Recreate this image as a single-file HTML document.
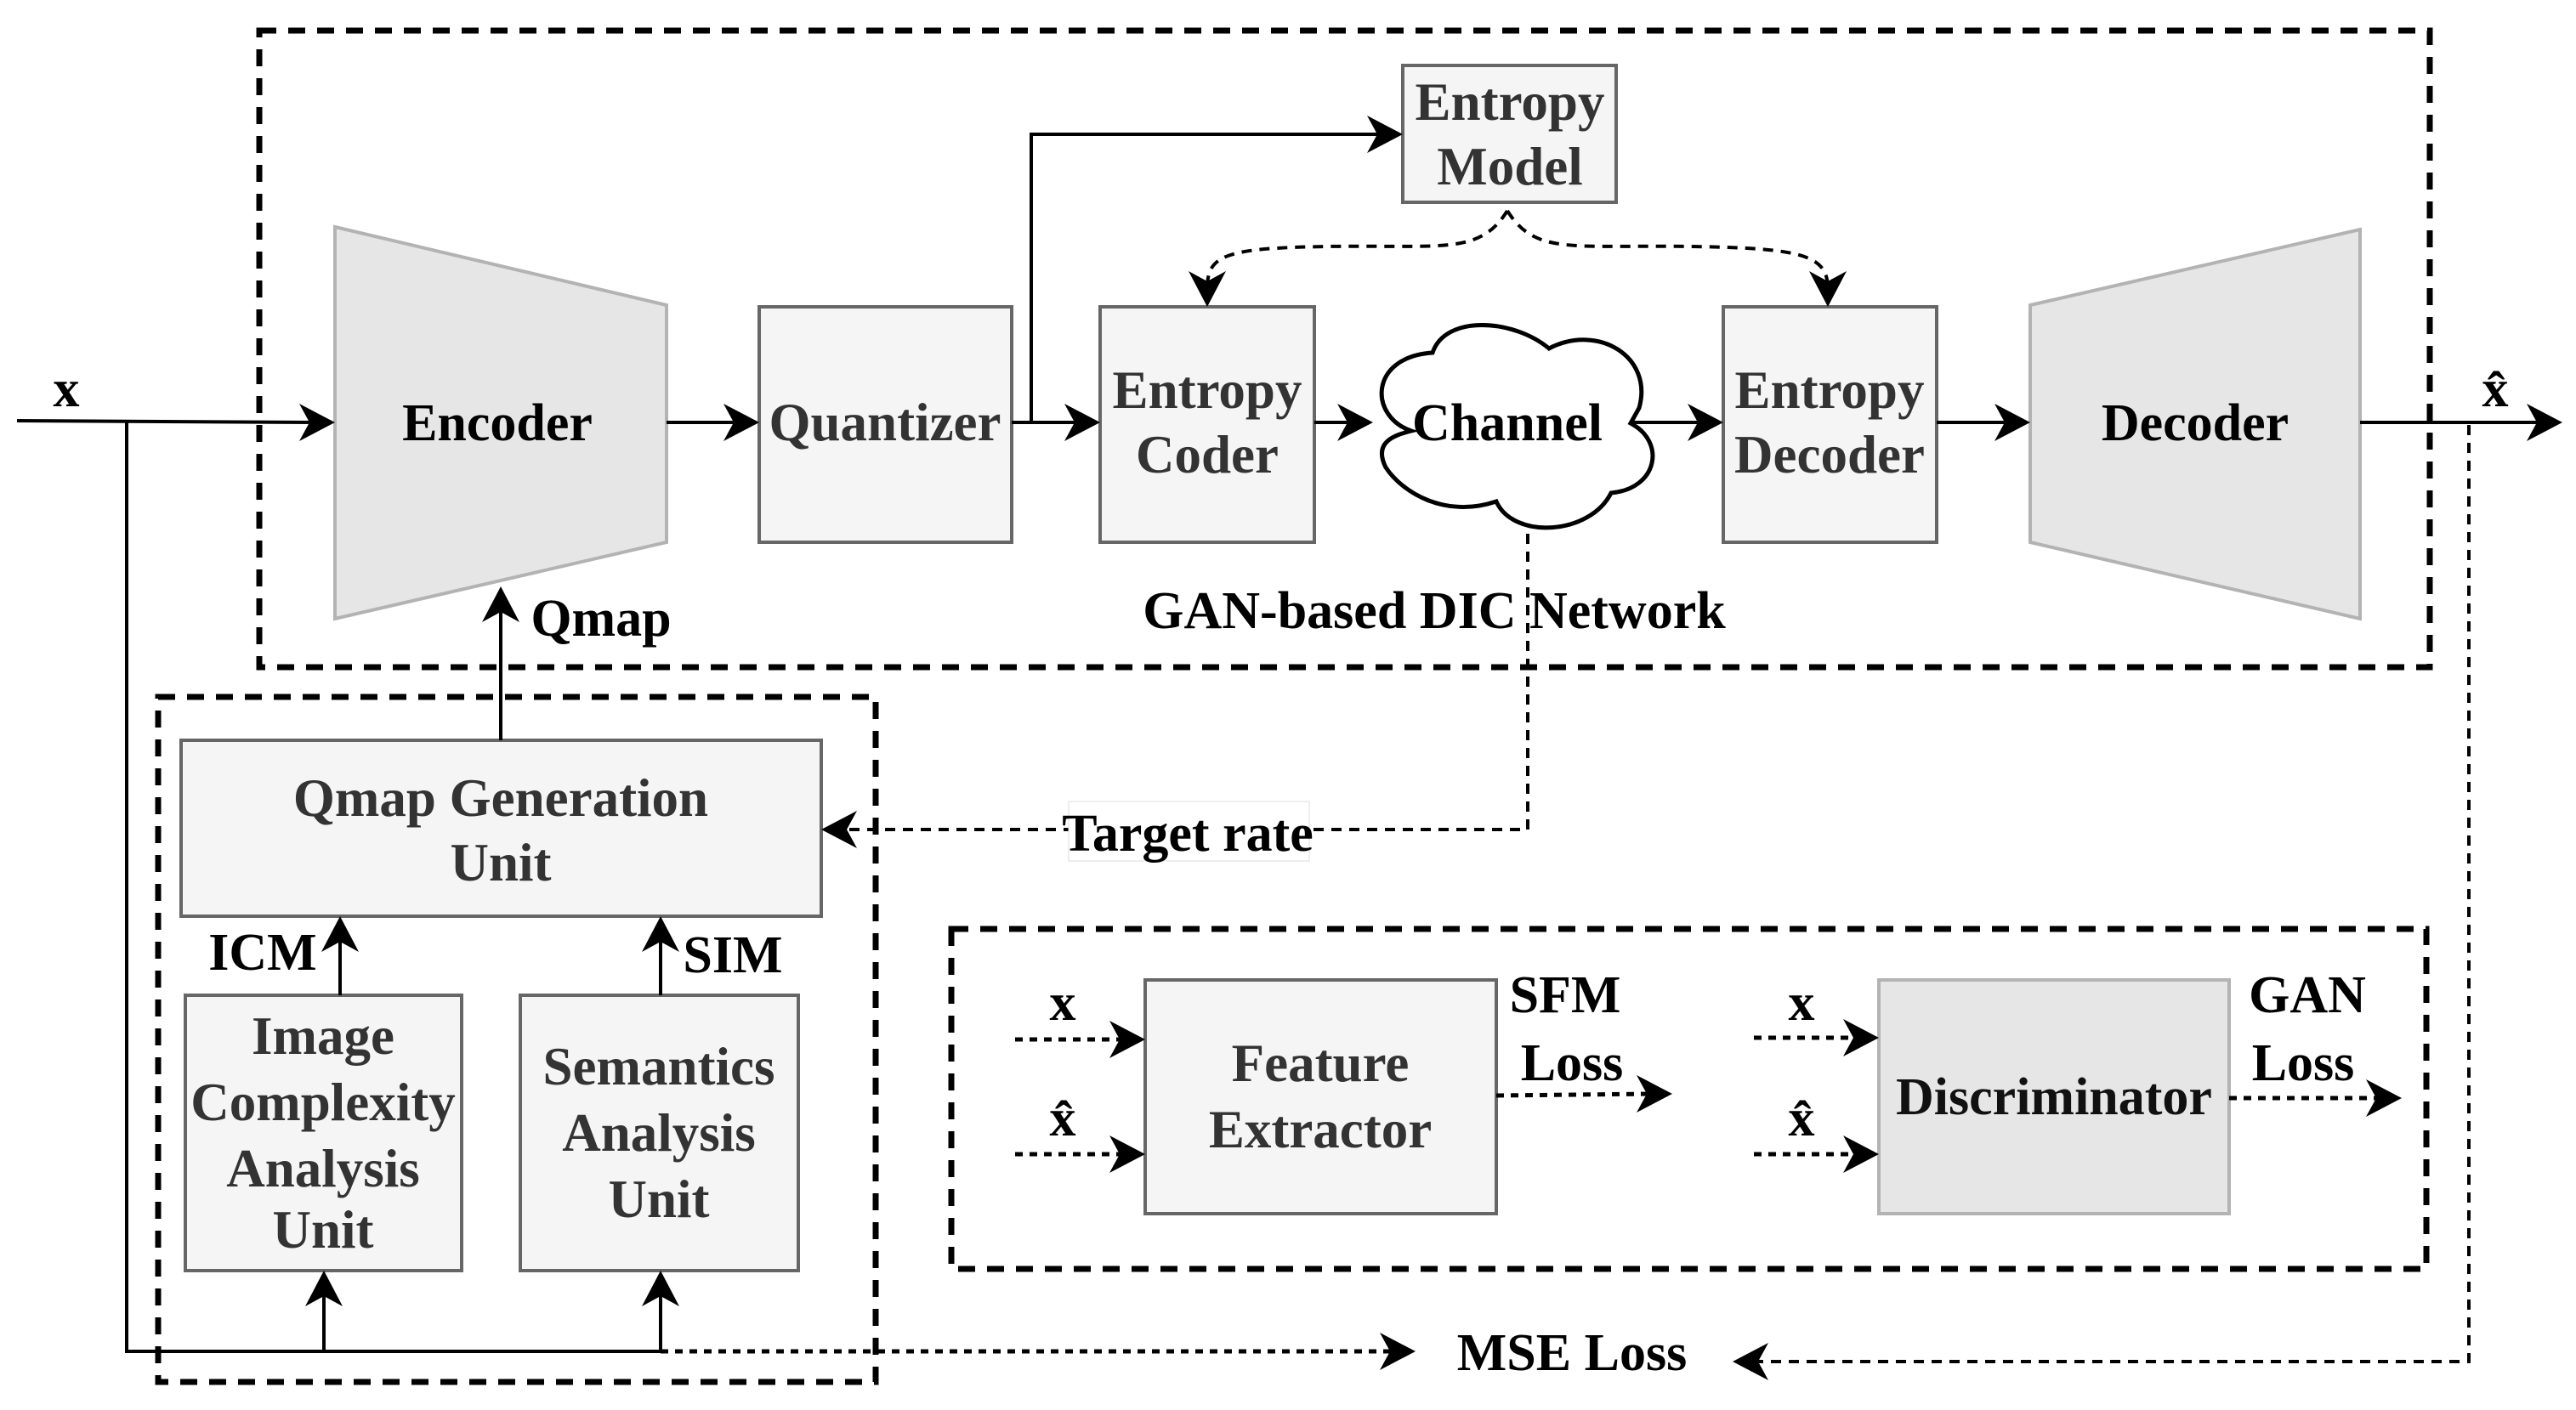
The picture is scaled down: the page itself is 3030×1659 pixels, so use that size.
<!DOCTYPE html>
<html><head><meta charset="utf-8"><style>
html,body{margin:0;padding:0;background:#fff;}
svg{display:block;}
text{font-family:"Liberation Serif","DejaVu Serif",serif;font-weight:bold;}
.bt{fill:#333;font-size:63px;text-anchor:middle;}
.lb{fill:#000;font-size:62px;text-anchor:middle;}
</style></head><body>
<svg width="3030" height="1659" viewBox="0 0 3030 1659" xmlns="http://www.w3.org/2000/svg">
<g fill="none" stroke="#000" stroke-width="7" stroke-dasharray="20 14">
<rect x="305" y="36" width="2553" height="749"/>
<rect x="186" y="820" width="844" height="806"/>
<rect x="1119" y="1093" width="1735" height="400"/>
</g>
<polygon points="394,267 784,359 784,638 394,728" fill="#e6e6e6" stroke="#b3b3b3" stroke-width="4"/>
<polygon points="2388,359 2776,270 2776,728 2388,638" fill="#e6e6e6" stroke="#b3b3b3" stroke-width="4"/>
<g fill="#f5f5f5" stroke="#666" stroke-width="4">
<rect x="893" y="361" width="297" height="277"/>
<rect x="1294" y="361" width="252" height="277"/>
<rect x="1650" y="77" width="251" height="161"/>
<rect x="2027" y="361" width="251" height="277"/>
<rect x="213" y="871" width="753" height="207"/>
<rect x="218" y="1171" width="325" height="324"/>
<rect x="612" y="1171" width="327" height="324"/>
<rect x="1347" y="1153" width="413" height="275"/>
</g>
<rect x="2210" y="1153" width="412" height="275" fill="#e6e6e6" stroke="#b3b3b3" stroke-width="4"/>
<path d="M1660,507 C1610,490 1610,420 1685,415 C1700,370 1780,375 1822,410 C1880,380 1945,420 1928,480 L1918,498 C1960,520 1950,575 1895,580 C1870,630 1780,635 1760,590 C1700,610 1650,580 1630,550 C1615,520 1640,512 1660,507 Z" fill="#fff" stroke="#000" stroke-width="5"/>
<g fill="none" stroke="#000" stroke-width="4">
<path d="M20,495 L370,497"/>
<path d="M784,497 L868,497"/>
<path d="M1190,497 L1270,497"/>
<path d="M1213,497 L1213,158 L1626,158"/>
<path d="M1546,497 L1592,497"/>
<path d="M1920,497 L2004,497"/>
<path d="M2278,497 L2364,497"/>
<path d="M2776,497 L2990,497"/>
<path d="M589,871 L589,714"/>
<path d="M400,1171 L400,1102"/>
<path d="M777,1171 L777,1102"/>
<path d="M149,497 L149,1590 L777,1590"/>
<path d="M381,1590 L381,1519"/>
<path d="M777,1590 L777,1519"/>
</g>
<g fill="#000">
<polygon points="394,497 352,475 364,497 352,519"/>
<polygon points="893,497 851,475 863,497 851,519"/>
<polygon points="1294,497 1252,475 1264,497 1252,519"/>
<polygon points="1650,158 1608,136 1620,158 1608,180"/>
<polygon points="1615,497 1573,475 1585,497 1573,519"/>
<polygon points="2027,497 1985,475 1997,497 1985,519"/>
<polygon points="2388,497 2346,475 2358,497 2346,519"/>
<polygon points="3014,497 2972,475 2984,497 2972,519"/>
<polygon points="589,690 567,732 589,720 611,732"/>
<polygon points="400,1078 378,1120 400,1108 422,1120"/>
<polygon points="777,1078 755,1120 777,1108 799,1120"/>
<polygon points="381,1495 359,1537 381,1525 403,1537"/>
<polygon points="777,1495 755,1537 777,1525 799,1537"/>
</g>
<g fill="none" stroke="#000" stroke-width="4" stroke-dasharray="12 9">
<path d="M1773,248 C1740,300 1700,288 1560,290 C1440,292 1420,300 1420,340"/>
<path d="M1773,248 C1806,300 1846,288 1990,290 C2120,292 2150,300 2150,340"/>
<path d="M1797,628 L1797,976 L990,976"/>
<path d="M2904,500 L2904,1602 L2060,1602"/>
</g>
<g fill="none" stroke="#000" stroke-width="5" stroke-dasharray="9 8">
<path d="M777,1590 L1640,1590"/>
<path d="M1194,1223 L1325,1223"/>
<path d="M1194,1358 L1325,1358"/>
<path d="M1760,1289 L1945,1287"/>
<path d="M2063,1221 L2188,1221"/>
<path d="M2063,1358 L2188,1358"/>
<path d="M2622,1292 L2803,1292"/>
</g>
<g fill="#000">
<polygon points="1420,361 1398,319 1420,331 1442,319"/>
<polygon points="2150,361 2128,319 2150,331 2172,319"/>
<polygon points="966,976 1008,954 996,976 1008,998"/>
<polygon points="2038,1602 2080,1580 2068,1602 2080,1624"/>
<polygon points="1665,1590 1623,1568 1635,1590 1623,1612"/>
<polygon points="1347,1223 1305,1201 1317,1223 1305,1245"/>
<polygon points="1347,1358 1305,1336 1317,1358 1305,1380"/>
<polygon points="1967,1287 1925,1265 1937,1287 1925,1309"/>
<polygon points="2210,1221 2168,1199 2180,1221 2168,1243"/>
<polygon points="2210,1358 2168,1336 2180,1358 2168,1380"/>
<polygon points="2825,1292 2783,1270 2795,1292 2783,1314"/>
</g>
<rect x="1257" y="943" width="283" height="70" fill="#fff" stroke="#ddd" stroke-width="1"/>
<text class="lb" x="585" y="518" font-size="64">Encoder</text>
<text class="bt" x="1041" y="518" font-size="64">Quantizer</text>
<text class="bt" x="1420" y="480">Entropy</text>
<text class="bt" x="1420" y="556">Coder</text>
<text class="bt" x="1776" y="141">Entropy</text>
<text class="bt" x="1776" y="217">Model</text>
<text class="lb" x="1773" y="518" font-size="66">Channel</text>
<text class="bt" x="2152" y="480">Entropy</text>
<text class="bt" x="2152" y="556">Decoder</text>
<text class="lb" x="2582" y="518" font-size="64">Decoder</text>
<text class="lb" x="78" y="478" font-size="56">x</text>
<text class="lb" x="2935" y="478" font-size="56">x̂</text>
<text class="lb" x="707" y="748" font-size="60">Qmap</text>
<text class="lb" x="1687" y="739" font-size="62">GAN-based DIC Network</text>
<text class="bt" x="589" y="960">Qmap Generation</text>
<text class="bt" x="589" y="1036">Unit</text>
<text class="lb" x="1397" y="1001" font-size="57">Target rate</text>
<text class="lb" x="309" y="1141" font-size="58">ICM</text>
<text class="lb" x="862" y="1144" font-size="58">SIM</text>
<text class="bt" x="380" y="1240">Image</text>
<text class="bt" x="380" y="1318">Complexity</text>
<text class="bt" x="380" y="1396">Analysis</text>
<text class="bt" x="380" y="1468">Unit</text>
<text class="bt" x="775" y="1276">Semantics</text>
<text class="bt" x="775" y="1354">Analysis</text>
<text class="bt" x="775" y="1432">Unit</text>
<text class="bt" x="1553" y="1272">Feature</text>
<text class="bt" x="1553" y="1350">Extractor</text>
<text class="lb" x="2416" y="1311" font-size="64" style="fill:#111">Discriminator</text>
<text class="lb" x="1250" y="1200" font-size="56">x</text>
<text class="lb" x="1250" y="1336" font-size="56">x̂</text>
<text class="lb" x="2119" y="1200" font-size="56">x</text>
<text class="lb" x="2119" y="1336" font-size="56">x̂</text>
<text class="lb" x="1841" y="1191" font-size="58">SFM</text>
<text class="lb" x="1849" y="1271" font-size="58">Loss</text>
<text class="lb" x="2714" y="1191" font-size="58">GAN</text>
<text class="lb" x="2709" y="1271" font-size="58">Loss</text>
<text class="lb" x="1849" y="1612" font-size="61">MSE Loss</text>
</svg>
</body></html>
